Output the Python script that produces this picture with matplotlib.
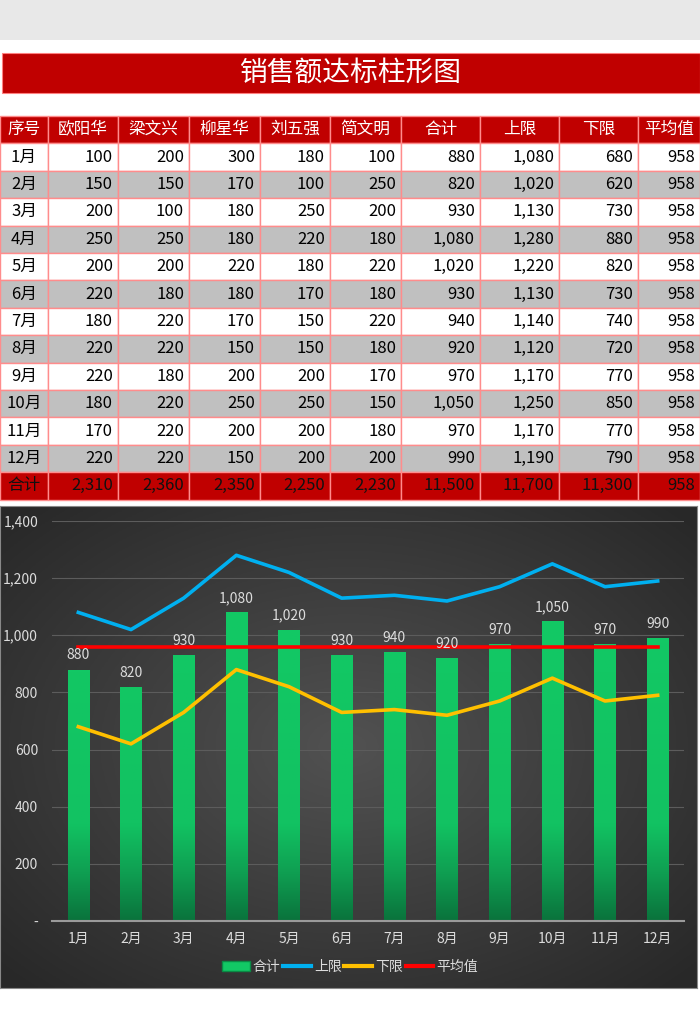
import numpy as np
import matplotlib
matplotlib.use('Agg')
import matplotlib.pyplot as plt
from matplotlib.patches import Rectangle, Patch
from matplotlib.lines import Line2D
from matplotlib.ticker import FuncFormatter
from matplotlib.colors import LinearSegmentedColormap

plt.rcParams['font.family'] = ['Noto Sans CJK SC', 'DejaVu Sans']

# ---- data ----
title = '销售额达标柱形图'
headers = ['序号', '欧阳华', '梁文兴', '柳星华', '刘五强', '简文明', '合计', '上限', '下限', '平均值']
months = ['1月', '2月', '3月', '4月', '5月', '6月', '7月', '8月', '9月', '10月', '11月', '12月']
ouyanghua = [100, 150, 200, 250, 200, 220, 180, 220, 220, 180, 170, 220]
liangwenxing = [200, 150, 100, 250, 200, 180, 220, 220, 180, 220, 220, 220]
liuxinghua = [300, 170, 180, 180, 220, 180, 170, 150, 200, 250, 200, 150]
liuwuqiang = [180, 100, 250, 220, 180, 170, 150, 150, 200, 250, 200, 200]
jianwenming = [100, 250, 200, 180, 220, 180, 220, 180, 170, 150, 180, 200]
total = [880, 820, 930, 1080, 1020, 930, 940, 920, 970, 1050, 970, 990]
upper = [1080, 1020, 1130, 1280, 1220, 1130, 1140, 1120, 1170, 1250, 1170, 1190]
lower = [680, 620, 730, 880, 820, 730, 740, 720, 770, 850, 770, 790]
average = [958] * 12
# bottom row as printed in the sheet
sum_row = [2310, 2360, 2350, 2250, 2230, 11500, 11700, 11300, 958]

W, H = 700, 1030
fig = plt.figure(figsize=(7, 10.3), dpi=100)
fig.patch.set_facecolor('white')

# page overlay in pixel coords
pg = fig.add_axes([0, 0, 1, 1])
pg.set_xlim(0, W)
pg.set_ylim(H, 0)
pg.axis('off')

pg.add_patch(Rectangle((0, 0), W, 40, facecolor='#e8e8e8', edgecolor='none'))
pg.add_patch(Rectangle((2, 53), W - 2, 40, facecolor='#c00000', edgecolor='#ff8080', lw=0.8))
pg.text(351, 73, title, color='white', fontsize=20, ha='center', va='center')

# table
col_edges = [0, 48, 118, 189, 260, 330, 401, 480, 559, 638, 700]
top, rh = 116, 27.4
red = '#c00000'
border = '#ff8c8c'


def fmt(v):
    return '{:,}'.format(v)


def draw_row(r, cells, bg, color, header=False):
    y0 = top + r * rh
    for c in range(10):
        x0, x1 = col_edges[c], col_edges[c + 1]
        pg.add_patch(Rectangle((x0, y0), x1 - x0, rh, facecolor=bg, edgecolor=border, lw=1))
        if header or c == 0:
            pg.text((x0 + x1) / 2, y0 + rh / 2, cells[c], color=color, fontsize=12,
                    ha='center', va='center')
        else:
            pg.text(x1 - 5, y0 + rh / 2, cells[c], color=color, fontsize=12,
                    ha='right', va='center')


draw_row(0, headers, red, 'white', header=True)
for i, m in enumerate(months):
    cells = [m] + [fmt(s[i]) for s in (ouyanghua, liangwenxing, liuxinghua, liuwuqiang,
                                         jianwenming, total, upper, lower, average)]
    draw_row(i + 1, cells, 'white' if i % 2 == 0 else '#c0c0c0', 'black')
draw_row(13, ['合计'] + [fmt(v) for v in sum_row], red, '#111111')

# chart background
cb = [0, 506, 697, 988]
bg = fig.add_axes([cb[0] / W, 1 - cb[3] / H, (cb[2] - cb[0]) / W, (cb[3] - cb[1]) / H])
yy, xx = np.mgrid[-1:1:200j, -1:1:200j]
rr = np.sqrt(xx ** 2 + yy ** 2)
shade = 0.32 - 0.16 * np.clip(rr / 1.35, 0, 1)
bg.imshow(np.dstack([shade] * 3), extent=[0, 1, 0, 1], aspect='auto')
bg.set_xticks([])
bg.set_yticks([])
for s in bg.spines.values():
    s.set_color('#888888')
    s.set_linewidth(0.8)

# plot area
ax = fig.add_axes([52 / W, 1 - 921 / H, 632 / W, 400 / H])
ax.patch.set_alpha(0)
x = np.arange(len(months))
ax.set_yticks(range(0, 1401, 200))
ax.yaxis.set_major_formatter(FuncFormatter(lambda v, p: '-' if v == 0 else '{:,.0f}'.format(v)))
ax.grid(axis='y', color='#5c5c5c', lw=0.8)
ax.set_axisbelow(True)
for s in ['top', 'right', 'left']:
    ax.spines[s].set_visible(False)
ax.spines['bottom'].set_color('#9a9a9a')
ax.spines['bottom'].set_linewidth(1.5)
ax.tick_params(length=0, colors='#dcdcdc', labelsize=10)
ax.tick_params(axis='y', pad=10)
ax.tick_params(axis='x', pad=8)
ax.set_xticks(x)
ax.set_xticklabels(months)

bars = ax.bar(x, total, width=0.4, color='#12c865', zorder=2)
grad = np.linspace(0, 1, 256).reshape(-1, 1)
cmap = LinearSegmentedColormap.from_list(
    'g', [(0, '#0a733c'), (0.12, '#0f9f52'), (0.24, '#12c262'), (1, '#12cc66')])
for b in bars:
    im = ax.imshow(grad, extent=[b.get_x(), b.get_x() + b.get_width(), 0, 1400],
                   origin='lower', cmap=cmap, aspect='auto', zorder=2)
    im.set_clip_path(b)
ax.set_xlim(-0.5, 11.5)
ax.set_ylim(0, 1400)
for i, v in enumerate(total):
    ax.text(i, v + 25, fmt(v), ha='center', va='bottom', color='#dcdcdc', fontsize=10, zorder=5)

ax.plot(x, upper, color='#00b0f0', lw=2.6, zorder=4)
ax.plot(x, lower, color='#ffc000', lw=2.6, zorder=4)
ax.plot(x, average, color='#ff0000', lw=2.6, zorder=4)

handles = [Patch(facecolor='#12c865', edgecolor='#0a8a45'),
           Line2D([], [], color='#00b0f0', lw=3),
           Line2D([], [], color='#ffc000', lw=3),
           Line2D([], [], color='#ff0000', lw=3)]
fig.legend(handles, ['合计', '上限', '下限', '平均值'], loc='center',
           bbox_to_anchor=(0.5, 1 - 967 / H), ncol=4, frameon=False, fontsize=10,
           labelcolor='#dcdcdc', handlelength=2.0, handletextpad=0.2, columnspacing=0.2)

fig.savefig('out.png', dpi=100)
